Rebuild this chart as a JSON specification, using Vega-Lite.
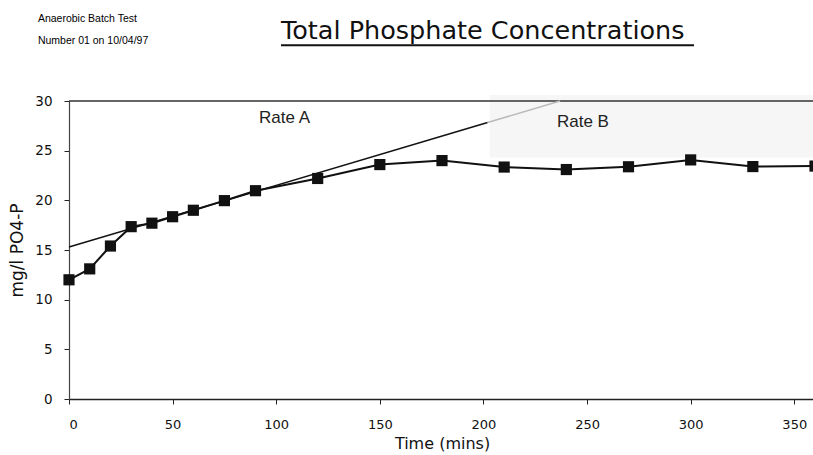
{
  "$schema": "https://vega.github.io/schema/vega-lite/v6.json",
  "width": 746,
  "height": 298,
  "autosize": "none",
  "padding": {"left": 69, "top": 101, "right": 0, "bottom": 56},
  "background": "white",
  "config": {"view": {"stroke": null}, "font": "DejaVu Sans"},
  "title": {
    "text": "Total Phosphate Concentrations",
    "anchor": "start",
    "frame": "group",
    "dx": 212,
    "offset": 0,
    "dy": 50,
    "baseline": "alphabetic",
    "font": "DejaVu Sans",
    "fontSize": 25.5,
    "fontWeight": "normal",
    "color": "#111"
  },
  "encoding": {
    "x": {
      "field": "t",
      "type": "quantitative",
      "scale": {"domain": [0, 360], "nice": false},
      "axis": {
        "title": "Time (mins)",
        "values": [0, 50, 100, 150, 200, 250, 300, 350],
        "grid": false,
        "domainColor": "#222",
        "domainWidth": 1.3,
        "tickColor": "#222",
        "tickSize": 5,
        "labelFontSize": 13,
        "labelColor": "#111",
        "labelPadding": 14,
        "titleFontSize": 16,
        "titleFontWeight": "normal",
        "titleColor": "#111",
        "titleY": 44,
        "titleBaseline": "middle"
      }
    },
    "y": {
      "field": "v",
      "type": "quantitative",
      "scale": {"domain": [0, 30], "nice": false},
      "axis": {
        "title": "mg/l PO4-P",
        "values": [0, 5, 10, 15, 20, 25, 30],
        "grid": false,
        "domainColor": "#444",
        "domainWidth": 1.2,
        "tickColor": "#222",
        "tickSize": 5,
        "labelFontSize": 13.5,
        "labelColor": "#111",
        "labelPadding": 12,
        "titleFontSize": 17,
        "titleFontWeight": "normal",
        "titleColor": "#111",
        "titleX": -52,
        "titleY": 149,
        "titleAngle": -90,
        "titleBaseline": "middle",
        "titleAlign": "center"
      }
    }
  },
  "layer": [
    {
      "data": {"values": [{"t": 203, "t2": 360, "v": 24.3, "v2": 30.6}]},
      "mark": {"type": "rect", "fill": "#f6f6f6", "clip": false},
      "encoding": {"x2": {"field": "t2"}, "y2": {"field": "v2"}}
    },
    {
      "data": {"values": [{"t": 0, "t2": 360, "v": 30, "v2": 30}]},
      "mark": {"type": "rule", "color": "#333", "strokeWidth": 1.5},
      "encoding": {"x2": {"field": "t2"}, "y2": {"field": "v2"}}
    },
    {
      "data": {"values": [
        {"t": 0, "t2": 202, "v": 15.3, "v2": 27.83, "seg": "main"},
        {"t": 202, "t2": 237, "v": 27.83, "v2": 30, "seg": "faded"}
      ]},
      "mark": {"type": "rule", "strokeWidth": 1.5},
      "encoding": {
        "x2": {"field": "t2"},
        "y2": {"field": "v2"},
        "color": {"field": "seg", "type": "nominal", "scale": {"domain": ["main", "faded"], "range": ["#111", "#bbbbbb"]}, "legend": null}
      }
    },
    {
      "data": {"values": [
        {"t": 0, "v": 12.0}, {"t": 10, "v": 13.1}, {"t": 20, "v": 15.4},
        {"t": 30, "v": 17.35}, {"t": 40, "v": 17.7}, {"t": 50, "v": 18.35},
        {"t": 60, "v": 19.0}, {"t": 75, "v": 19.97}, {"t": 90, "v": 20.97},
        {"t": 120, "v": 22.2}, {"t": 150, "v": 23.6}, {"t": 180, "v": 24.0},
        {"t": 210, "v": 23.35}, {"t": 240, "v": 23.1}, {"t": 270, "v": 23.38},
        {"t": 300, "v": 24.07}, {"t": 330, "v": 23.4}, {"t": 360, "v": 23.45}
      ]},
      "mark": {
        "type": "line",
        "color": "#111",
        "strokeWidth": 2,
        "clip": false,
        "point": {"shape": "square", "size": 125, "filled": true, "color": "#111", "opacity": 1}
      }
    },
    {
      "data": {"values": [
        {"t": 104, "v": 27.8, "label": "Rate A"},
        {"t": 248, "v": 27.4, "label": "Rate B"}
      ]},
      "mark": {"type": "text", "font": "Liberation Sans", "fontSize": 17, "color": "#222", "baseline": "alphabetic", "align": "center"},
      "encoding": {"text": {"field": "label"}}
    },
    {
      "data": {"values": [
        {"t": -15, "v": 37.95, "label": "Anaerobic Batch Test"},
        {"t": -15, "v": 35.74, "label": "Number 01 on 10/04/97"}
      ]},
      "mark": {"type": "text", "font": "Liberation Sans", "fontSize": 10.5, "color": "#000", "baseline": "alphabetic", "align": "left", "clip": false},
      "encoding": {"text": {"field": "label"}}
    },
    {
      "data": {"values": [{"t": 102.3, "t2": 301.6, "v": 35.6, "v2": 35.6}]},
      "mark": {"type": "rule", "color": "#111", "strokeWidth": 2, "clip": false},
      "encoding": {"x2": {"field": "t2"}, "y2": {"field": "v2"}}
    }
  ]
}
